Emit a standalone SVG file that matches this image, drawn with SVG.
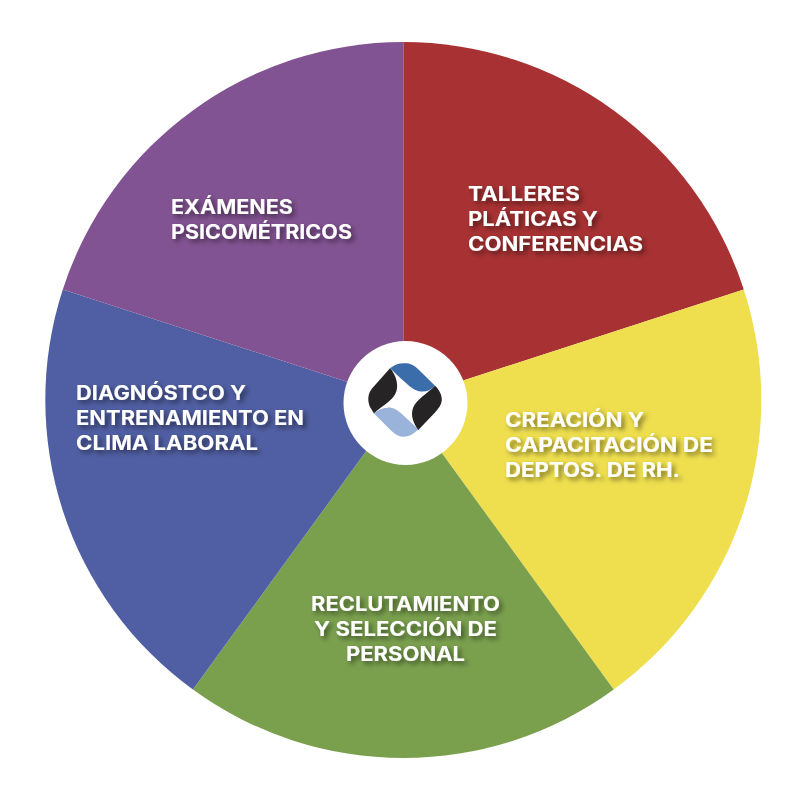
<svg xmlns="http://www.w3.org/2000/svg" width="806" height="806" viewBox="0 0 806 806">
<defs>
<filter id="sh" x="-10%" y="-30%" width="120%" height="170%"><feDropShadow dx="3" dy="3" stdDeviation="2.8" flood-color="#000" flood-opacity="0.5"/></filter>
</defs>
<style>
text{font-family:"Inter","Liberation Sans",sans-serif;font-weight:700;font-size:19.5px;fill:#fff;}
.l{filter:url(#sh);}
</style>
<rect width="806" height="806" fill="#fff"/>
<g id="connectors"/>
<g id="talleres">
<path d="M403.300 400V42A358 358 0 0 1 743.800 289.400Z" fill="#A83233"/>
<g class="l"><text x="468" y="200.500" textLength="112" lengthAdjust="spacingAndGlyphs">TALLERES</text>
<text x="468" y="225.500" textLength="130" lengthAdjust="spacingAndGlyphs">PLÁTICAS Y</text>
<text x="468" y="250.500" textLength="175" lengthAdjust="spacingAndGlyphs">CONFERENCIAS</text></g>
</g>
<g id="creacion">
<path d="M403.300 400L743.800 289.400A358 358 0 0 1 613.700 689.600Z" fill="#EFDF4F"/>
<g class="l"><text x="505" y="426.500" textLength="139" lengthAdjust="spacingAndGlyphs">CREACIÓN Y</text>
<text x="505" y="451.500" textLength="208" lengthAdjust="spacingAndGlyphs">CAPACITACIÓN DE</text>
<text x="505" y="476.500" textLength="175" lengthAdjust="spacingAndGlyphs">DEPTOS. DE RH.</text></g>
</g>
<g id="reclutamiento">
<path d="M403.300 400L613.700 689.600A358 358 0 0 1 192.900 689.600Z" fill="#7AA04E"/>
<g class="l"><text x="311" y="611" textLength="189" lengthAdjust="spacingAndGlyphs">RECLUTAMIENTO</text>
<text x="314" y="636" textLength="183" lengthAdjust="spacingAndGlyphs">Y SELECCIÓN DE</text>
<text x="346" y="661" textLength="119" lengthAdjust="spacingAndGlyphs">PERSONAL</text></g>
</g>
<g id="diagnostico">
<path d="M403.300 400L192.900 689.600A358 358 0 0 1 62.800 289.400Z" fill="#505FA3"/>
<g class="l"><text x="76" y="400" textLength="170" lengthAdjust="spacingAndGlyphs">DIAGNÓSTCO Y</text>
<text x="76" y="425" textLength="228" lengthAdjust="spacingAndGlyphs">ENTRENAMIENTO EN</text>
<text x="76" y="450" textLength="182" lengthAdjust="spacingAndGlyphs">CLIMA LABORAL</text></g>
</g>
<g id="examenes">
<path d="M403.300 400L62.800 289.400A358 358 0 0 1 403.300 42Z" fill="#825392"/>
<g class="l"><text x="171" y="214" textLength="122" lengthAdjust="spacingAndGlyphs">EXÁMENES</text>
<text x="171" y="239" textLength="181" lengthAdjust="spacingAndGlyphs">PSICOMÉTRICOS</text></g>
</g>
<g id="logo">
<circle cx="405.500" cy="403" r="62" fill="#fff"/>
<path d="M390 368.300C394 365 398 363.300 404 363.200C410 363.100 414 365 418 369L435 385.700C431 390 426 392 421 391.500C415 391 411 387.500 406 383C400 378 395 373 390 368.300Z" fill="#3C6DAB"/>
<path d="M390 368.300C396 375 398.500 384 396.500 391C393.500 401 381 406 374 413.500L370 407C367.500 401 367.500 394 372 388.500Z" fill="#262425"/>
<path d="M374 413.500C379 409 385 407 391 407.700C396 408.500 400 412 404 416L418.300 429.300C414 434 409 436.800 403 436.700C398 436.500 395 434 391 430.500Z" fill="#9AB3DA"/>
<path d="M435 385.700C438.500 389 442 394 441.800 400C441.600 404.500 439 408 435 412.500L418.300 430C413 423 410.500 415 413 408C416.500 399 428 393 435 385.700Z" fill="#262425"/>
</g>
</svg>
